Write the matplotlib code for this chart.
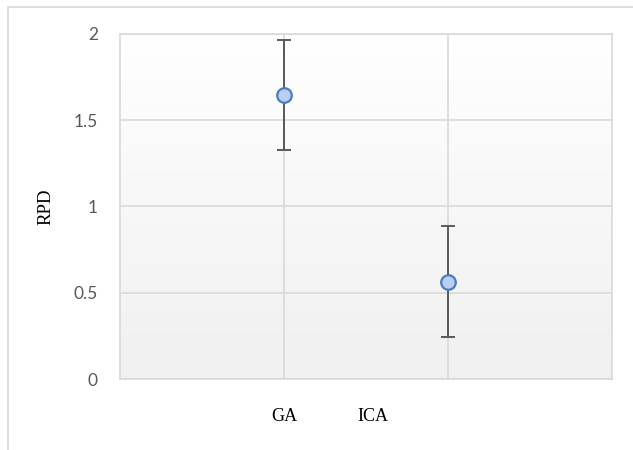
import matplotlib
matplotlib.use("Agg")
import matplotlib.pyplot as plt
import numpy as np
from matplotlib.patches import Rectangle
from matplotlib.colors import LinearSegmentedColormap

categories = ["GA", "ICA"]
rpd_values = [1.645, 0.565]
rpd_errors = [0.32, 0.32]
y_ticks = [0, 0.5, 1, 1.5, 2]
y_tick_labels = ["0", "0.5", "1", "1.5", "2"]

W, H = 633, 450
fig = plt.figure(figsize=(W/100, H/100), dpi=100)

# outer chart frame
fig.add_artist(Rectangle((8/W, -0.01), 1.0, 1 - 7/H + 0.01, transform=fig.transFigure,
                         fill=False, edgecolor="#d9d9d9", linewidth=1.2))

left, right, top, bottom = 120, 612, 34, 379
ax = fig.add_axes([left/W, 1 - bottom/H, (right-left)/W, (bottom-top)/H])

# gradient background
grad = np.linspace(0, 1, 256).reshape(-1, 1)
cmap = LinearSegmentedColormap.from_list("bg", ["#ffffff", "#f0f0f0"])
ax.imshow(grad, extent=[0, 1, 0, 1], transform=ax.transAxes, cmap=cmap,
          aspect="auto", zorder=0, origin="upper")

ax.set_xlim(0, 3)
ax.set_ylim(0, 2)
ax.set_yticks(y_ticks)
ax.set_yticklabels(y_tick_labels, fontfamily="Lato", fontsize=12.5, color="#595959")
ax.tick_params(axis="y", length=0, pad=16)
ax.set_xticks([1, 2])
ax.set_xticklabels([])
ax.tick_params(axis="x", length=0)
ax.grid(True, color="#d9d9d9", linewidth=1.2, zorder=1)
ax.set_axisbelow(True)
for s in ax.spines.values():
    s.set_color("#d9d9d9")
    s.set_linewidth(1.2)

xs = np.arange(1, len(categories) + 1)
ax.errorbar(xs, rpd_values, yerr=rpd_errors, fmt="none", ecolor="#595959",
            elinewidth=1.4, capsize=5, capthick=1.4, zorder=3)
ax.scatter(xs, rpd_values, s=110, facecolor="#b8cef2", edgecolor="#4a7ebb",
           linewidth=1.6, zorder=4)

# category labels (as placed in the reference)
label_x = [1.0, 1.54]
for lx, c in zip(label_x, categories):
    ax.text(lx, -0.22, c, ha="center", va="center", fontfamily="Liberation Serif",
            fontsize=13, color="black")

fig.text(46/W, 1 - 207/H, "RPD", rotation=90, ha="center", va="center",
         fontfamily="Liberation Serif", fontsize=13.5, color="black")

fig.savefig("out.png", dpi=100)
